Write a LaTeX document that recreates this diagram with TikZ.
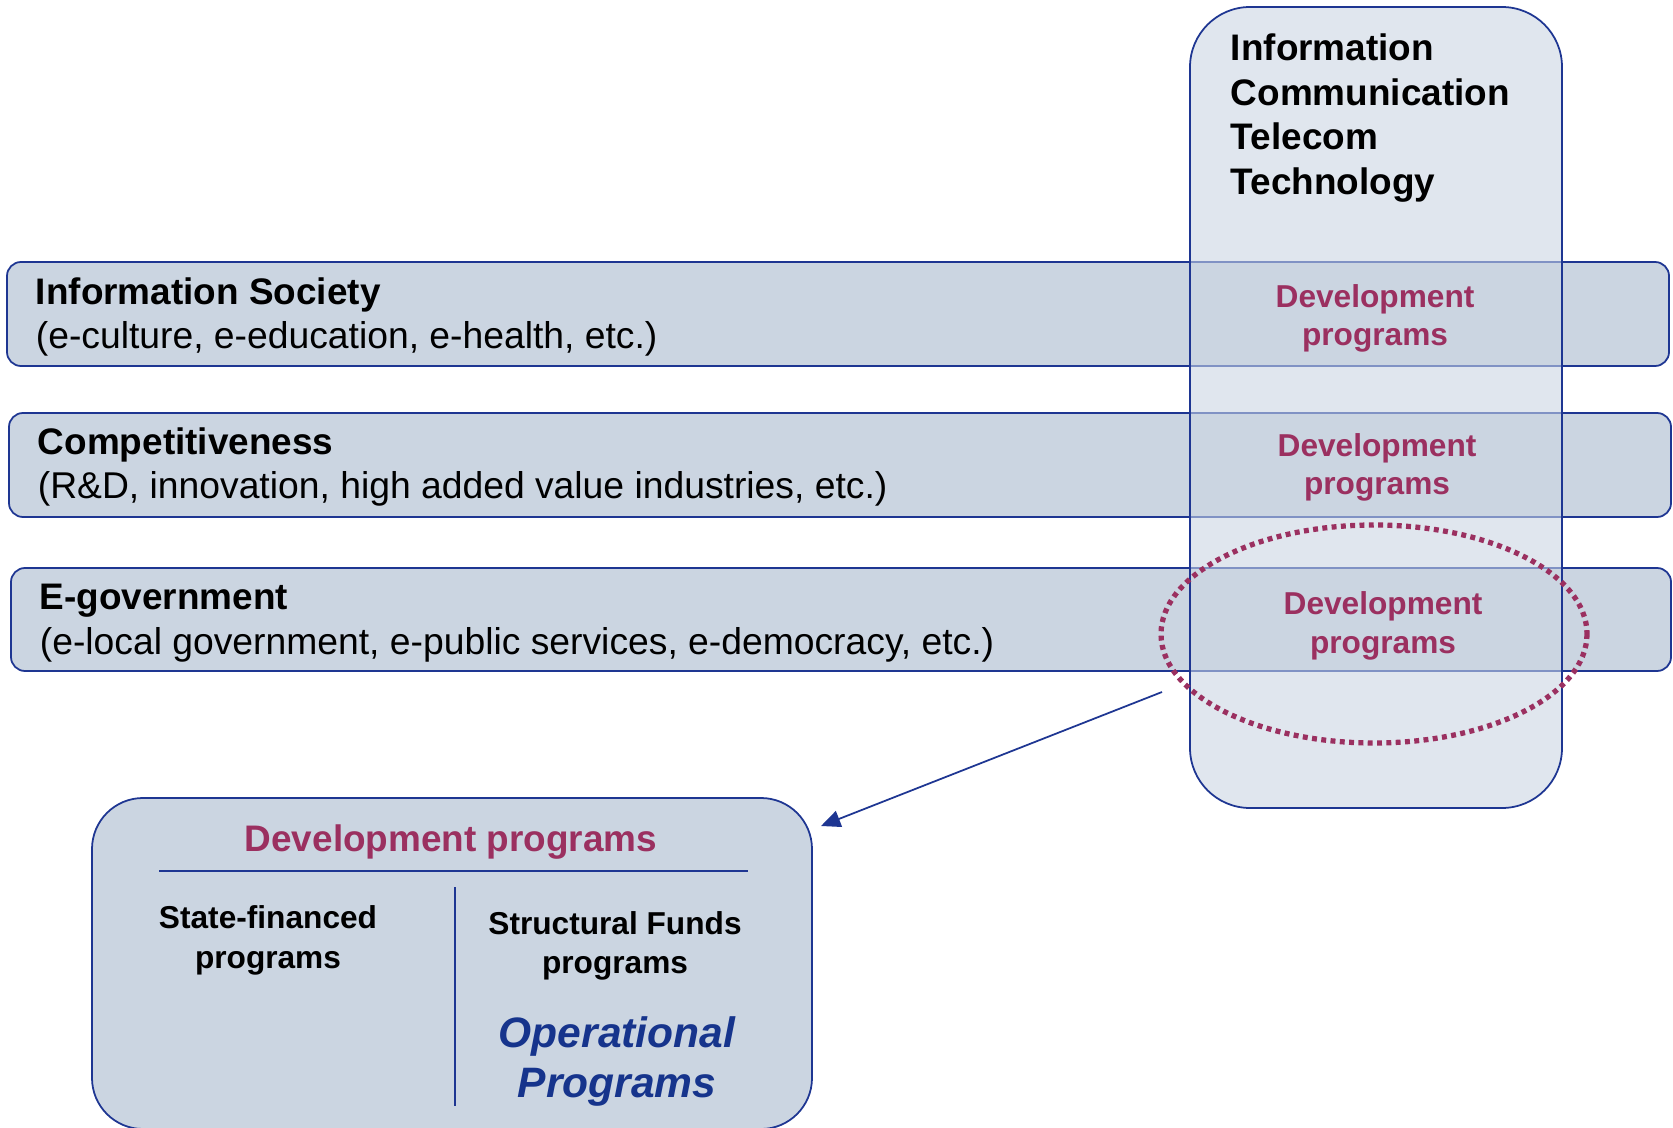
\documentclass[tikz,border=0pt]{standalone}
\usepackage{fontspec}
\setmainfont{Liberation Sans}
\usetikzlibrary{arrows.meta}

\definecolor{frame}{RGB}{30,54,146}
\definecolor{faint}{RGB}{128,146,196}
\definecolor{bandfill}{RGB}{203,213,225}
\definecolor{ictfill}{RGB}{224,230,238}
\definecolor{devcol}{RGB}{155,48,96}
\definecolor{opcol}{RGB}{22,52,140}

\tikzset{
  band/.style={draw=frame, fill=bandfill, rounded corners=0.14cm},
  txt/.style={inner sep=0pt, font=\fontsize{10.6}{12.7}\selectfont},
  head/.style={txt, font=\fontsize{10.5}{12.6}\selectfont\bfseries},
  devlab/.style={inner sep=0pt, text=devcol, font=\fontsize{9}{10.8}\selectfont\bfseries},
  small/.style={inner sep=0pt, font=\fontsize{9}{10.8}\selectfont\bfseries},
  oplab/.style={inner sep=0pt, text=opcol, font=\fontsize{12.1}{14.5}\selectfont\bfseries\itshape},
  focus/.style={draw=devcol, line width=1.5pt, dash pattern=on 1.4pt off 1.25pt}
}

\begin{document}
\begin{tikzpicture}[x=0.01cm, y=-0.01cm, line width=0.5pt]
\useasboundingbox (0,0) rectangle (1673,1128);

% ICT column and the three bands
\fill[ictfill, rounded corners=0.6cm] (1190,7) rectangle (1562,808);
\draw[band] (7,262) rectangle (1669,366);
\draw[band] (9,413) rectangle (1671,517);
\draw[band] (11,568) rectangle (1671,671);
\begin{scope}
  \clip (1190,7) rectangle (1562,808);
  \draw[faint] (7,262) rectangle (1669,366);
  \draw[faint] (9,413) rectangle (1671,517);
  \draw[faint] (11,568) rectangle (1671,671);
\end{scope}
\draw[frame, rounded corners=0.6cm] (1190,7) rectangle (1562,808);

\foreach \w [count=\i] in {Information,Communication,Telecom,Technology}
  \node[head, anchor=base west] (ict\i) at (1230,16.5+44.5*\i) {\w};

\node[head, anchor=base west] (soc) at (35,305) {Information Society};
\node[txt, anchor=base west] (socsub) at (35,349) {(e-culture, e-education, e-health, etc.)};
\node[head, anchor=base west] (comp) at (37,455) {Competitiveness};
\node[txt, anchor=base west] (compsub) at (37,499) {(R\&D, innovation, high added value industries, etc.)};
\node[head, anchor=base west] (egov) at (39,610) {E-government};
\node[txt, anchor=base west] (egovsub) at (39,654) {(e-local government, e-public services, e-democracy, etc.)};

\node[devlab, anchor=base] (dev1) at (1375,308) {Development};
\node[devlab, anchor=base] (prog1) at (1375,346) {programs};
\node[devlab, anchor=base] (dev2) at (1377,457) {Development};
\node[devlab, anchor=base] (prog2) at (1377,495) {programs};
\node[devlab, anchor=base] (dev3) at (1383,615) {Development};
\node[devlab, anchor=base] (prog3) at (1383,653) {programs};

\draw[focus] (1374,634) ellipse [x radius=213, y radius=109];

% zoom on the development programs
\draw[frame, fill=bandfill, rounded corners=0.51cm] (92,798) rectangle (812,1129);
\node[head, text=devcol, anchor=base] (dp) at (451,851) {Development programs};
\coordinate (rulel) at (159,871);
\coordinate (ruler) at (748,871);
\draw[frame] (rulel) -- (ruler);
\coordinate (splitt) at (455,887);
\coordinate (splitb) at (455,1106);
\draw[frame] (splitt) -- (splitb);

\node[small, anchor=base] (state) at (268,928) {State-financed};
\node[small, anchor=base] (stateprog) at (268,968) {programs};
\node[small, anchor=base] (sf) at (615,934) {Structural Funds};
\node[small, anchor=base] (sfprog) at (615,973) {programs};
\node[oplab, anchor=base] (op) at (617,1047) {Operational};
\node[oplab, anchor=base] (opprog) at (617,1097) {Programs};

\coordinate (arrfrom) at (1162,692);
\coordinate (arrto) at (821,826);
\draw[frame, -{Triangle[length=5.5pt,width=4.8pt]}] (arrfrom) -- (arrto);
\end{tikzpicture}
\end{document}
